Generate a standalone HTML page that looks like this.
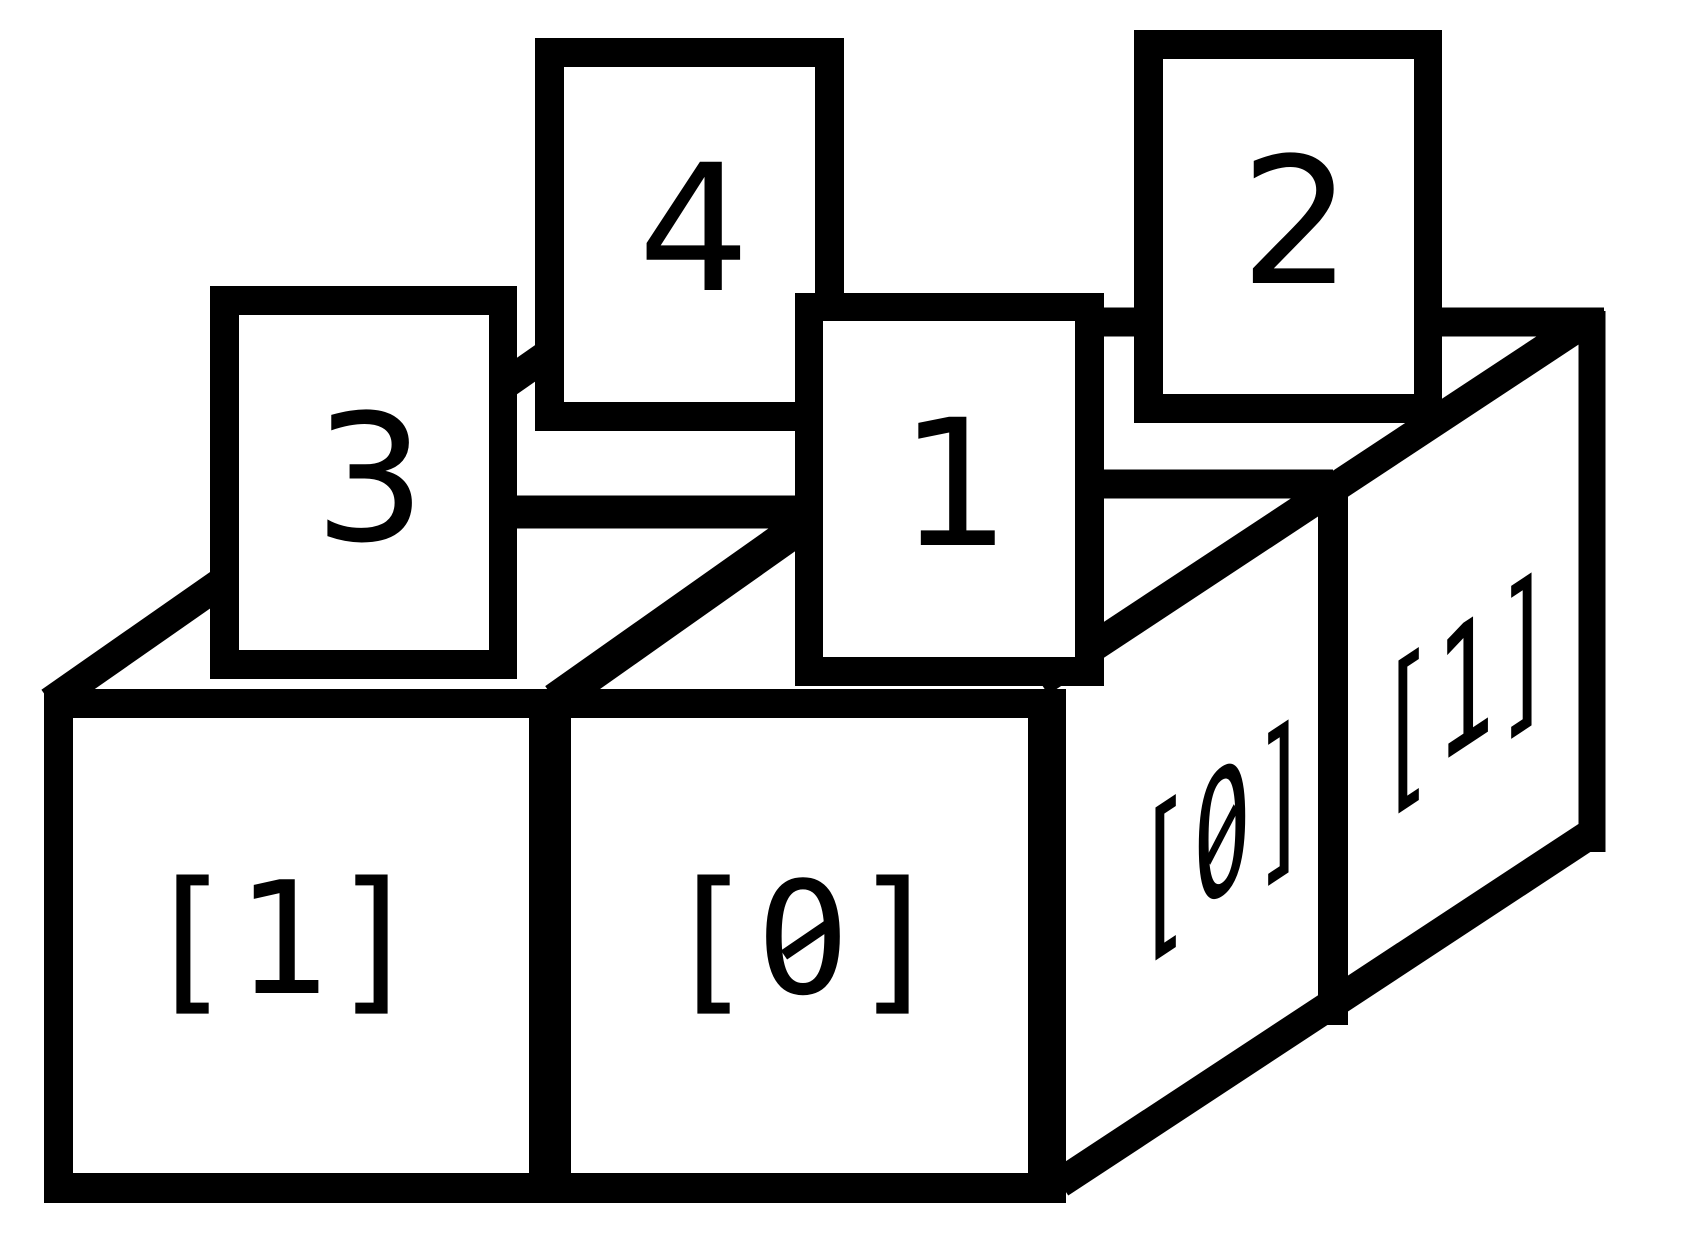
<!DOCTYPE html>
<html><head><meta charset="utf-8"><style>
html,body{margin:0;padding:0;background:#fff;}
svg{display:block;}
.num{font-family:"DejaVu Sans","Liberation Sans",sans-serif;font-size:176px;fill:#000;}
.mono{font-family:"DejaVu Sans Mono","Liberation Mono",monospace;font-size:156px;fill:#000;}
</style></head><body>
<svg width="1705" height="1255" viewBox="0 0 1705 1255">
<g stroke="#000" fill="none">
  <line x1="50" y1="702" x2="600" y2="318" stroke-width="30"/>
  <line x1="500" y1="512" x2="810" y2="512" stroke-width="33"/>
  <line x1="555" y1="700" x2="800" y2="527" stroke-width="34"/>
  <line x1="1090" y1="322" x2="1604" y2="322" stroke-width="29"/>
  <line x1="1090" y1="484" x2="1333" y2="484" stroke-width="29"/>
  <line x1="1040" y1="682" x2="1584" y2="323" stroke-width="30"/>
  <line x1="1060" y1="1183" x2="1592" y2="833" stroke-width="30"/>
  <line x1="1333" y1="494" x2="1333" y2="1025" stroke-width="30"/>
  <line x1="1592" y1="311" x2="1592" y2="852" stroke-width="27"/>
</g>
<g transform="translate(1222,830) skewY(-33.5) scale(0.63,1.1)">
  <text class="mono" text-anchor="middle" y="58">[0]</text>
  <ellipse cx="-1" cy="2" rx="16" ry="20" fill="#fff"/>
  <line x1="-22" y1="20" x2="22" y2="-12" stroke="#000" stroke-width="11"/>
</g>
<g transform="translate(1465,683) skewY(-33.5) scale(0.63,1.1)">
  <text class="mono" text-anchor="middle" y="58">[1]</text>
</g>
<g>
  <rect x="44" y="689" width="514" height="514" fill="#000"/>
  <rect x="73" y="718" width="456" height="455" fill="#fff"/>
  <text class="mono" x="282" y="993" text-anchor="middle">[1]</text>
</g>
<g>
  <rect x="529" y="689" width="537" height="514" fill="#000"/>
  <rect x="571" y="718" width="457" height="455" fill="#fff"/>
  <text class="mono" x="803" y="993" text-anchor="middle">[0]</text>
  <ellipse cx="805" cy="937" rx="16" ry="20" fill="#fff"/>
  <line x1="784" y1="955" x2="828" y2="925" stroke="#000" stroke-width="11"/>
</g>
<g>
  <rect x="535" y="38" width="309" height="393" fill="#000"/>
  <rect x="564" y="67" width="251" height="335" fill="#fff"/>
  <text class="num" x="694" y="290" text-anchor="middle">4</text>
</g>
<g>
  <rect x="1134" y="30" width="308" height="393" fill="#000"/>
  <rect x="1163" y="59" width="251" height="335" fill="#fff"/>
  <text class="num" x="1296" y="283" text-anchor="middle">2</text>
</g>
<g>
  <rect x="210" y="286" width="307" height="393" fill="#000"/>
  <rect x="239" y="315" width="250" height="335" fill="#fff"/>
  <text class="num" x="370" y="540" text-anchor="middle">3</text>
</g>
<g>
  <rect x="795" y="293" width="309" height="393" fill="#000"/>
  <rect x="823" y="321" width="252" height="336" fill="#fff"/>
  <text class="num" x="955" y="545" text-anchor="middle">1</text>
</g>
</svg>
</body></html>
